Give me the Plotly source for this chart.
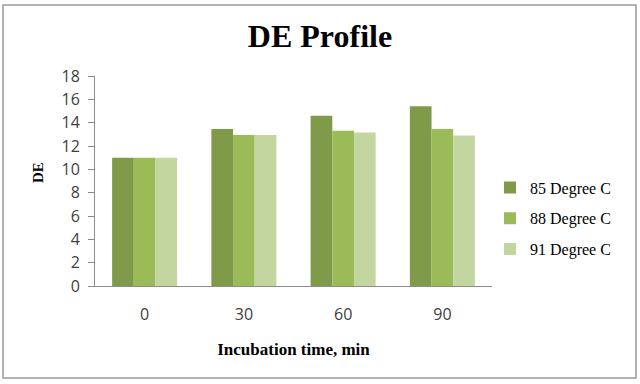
import plotly.graph_objects as go

categories = ["0", "30", "60", "90"]
series_names = ["85 Degree C", "88 Degree C", "91 Degree C"]
de_85 = [11.0, 13.45, 14.6, 15.4]
de_88 = [11.0, 12.95, 13.3, 13.45]
de_91 = [11.0, 12.95, 13.15, 12.9]
y_ticks = [0, 2, 4, 6, 8, 10, 12, 14, 16, 18]
colors = ["#7f9b49", "#9bbb59", "#c4d6a0"]

fig = go.Figure()
for i, (name, vals) in enumerate(zip(series_names, [de_85, de_88, de_91])):
    fig.add_trace(go.Bar(x=categories, y=vals, name=name, marker_color=colors[i],
                         marker_line_width=0, legendgroup=f"g{i}"))

serif = "Liberation Serif, Times New Roman, serif"
sans = "Open Sans, Liberation Sans, sans-serif"

L, R, T, B = 95, 492, 76, 286
W, H = 640, 384
pw, ph = R - L, B - T

fig.update_layout(
    width=W, height=H,
    paper_bgcolor="white", plot_bgcolor="white",
    margin=dict(l=L, r=W - R, t=T, b=H - B, autoexpand=False),
    barmode="group", bargap=0.345, bargroupgap=0,
    title=dict(text="<b>DE Profile</b>", x=0.5, xref="container", xanchor="center",
               y=1 - 36 / H, yanchor="middle",
               font=dict(family=serif, size=32, color="black")),
    xaxis=dict(showline=True, linecolor="#8c8c8c", linewidth=1, automargin=False,
               ticks="", ticklabelstandoff=14,
               tickfont=dict(family=sans, size=16, color="#404040"),
               title=dict(text="<b>Incubation time, min</b>", standoff=18,
                          font=dict(family=serif, size=17, color="black"))),
    yaxis=dict(range=[0, 18], tickvals=y_ticks, showgrid=False, zeroline=False,
               showline=True, linecolor="#8c8c8c", linewidth=1, automargin=False,
               ticks="outside", ticklen=6, tickcolor="#8c8c8c", ticklabelstandoff=5,
               tickfont=dict(family=sans, size=16, color="#404040")),
    legend=dict(x=(490 - L) / pw, xanchor="left", y=(B - 218.5) / ph, yanchor="middle",
                font=dict(family=serif, size=16, color="black"),
                tracegroupgap=7, itemwidth=30, bgcolor="rgba(0,0,0,0)"),
    showlegend=True,
    annotations=[dict(text="<b>DE</b>", xref="paper", yref="paper",
                      x=(38 - L) / pw, y=(B - 173) / ph, xanchor="center", yanchor="middle",
                      textangle=-90, showarrow=False,
                      font=dict(family=serif, size=15, color="black"))],
    shapes=[dict(type="rect", xref="paper", yref="paper",
                 x0=(3 - L) / pw, x1=(636 - L) / pw,
                 y0=(B - 378) / ph, y1=(B - 5) / ph,
                 line=dict(color="#9a9a9a", width=1.5), fillcolor="rgba(0,0,0,0)",
                 layer="below")],
)

fig.write_html("out.html", config={"displayModeBar": False},
               post_script="document.body.style.margin='0';")
